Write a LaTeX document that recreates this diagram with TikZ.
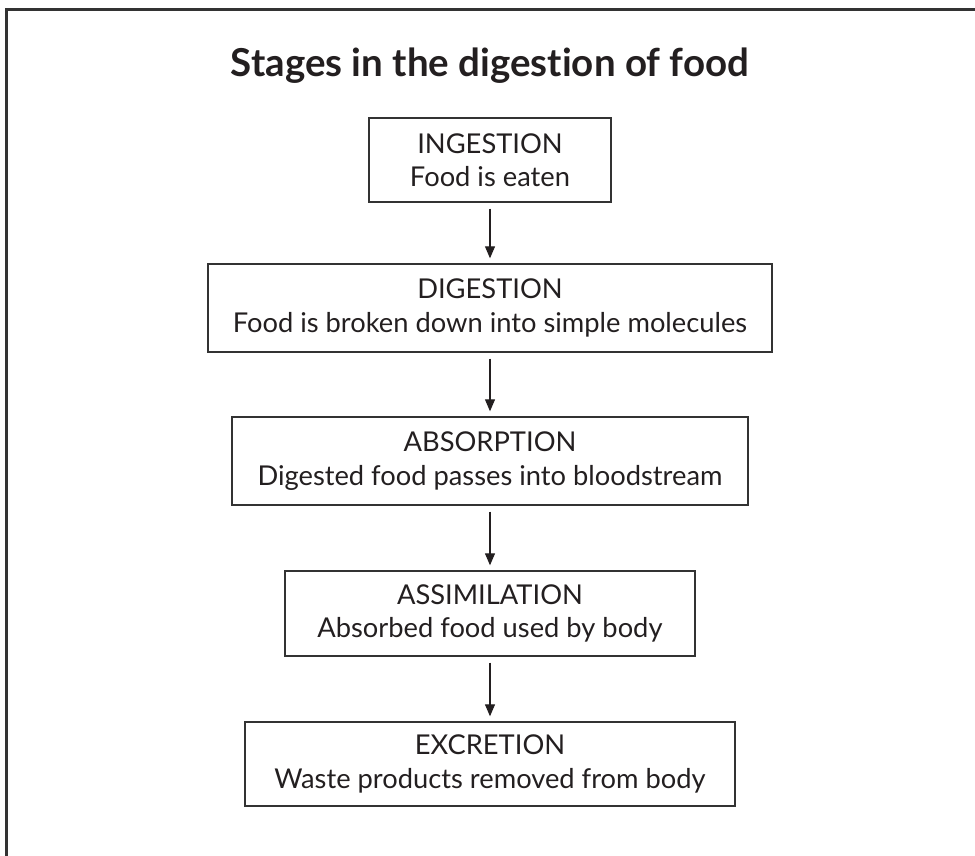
\documentclass[tikz,border=0pt]{standalone}
\usepackage{fontspec}
\setmainfont{Lato}[Ligatures=NoCommon]
\usetikzlibrary{arrows.meta}
\definecolor{txt}{HTML}{231F20}
\definecolor{boxcol}{HTML}{333333}
\begin{document}
\begin{tikzpicture}[x=1pt,y=-1pt,
  frame/.style={draw=boxcol, line width=2.2pt},
  stagebox/.style={draw=boxcol, line width=1.4pt, align=center,
    font=\fontsize{27.3}{33.5}\selectfont, text=txt, inner sep=0pt},
  flow/.style={draw=txt, line width=1.2pt, -{Triangle[width=10pt,length=12pt]},
    shorten <=6pt, shorten >=5pt}]
\useasboundingbox (0,0) rectangle (975,856);
\draw[frame] (6.5,856) -- (6.5,9.5) -- (975,9.5);
\node[font=\bfseries\fontsize{38.5}{40}\selectfont, text=txt] (title) at (490,66) {Stages in the digestion of food};
\node[stagebox, minimum width=242pt, minimum height=84pt] (ing) at (490,160) {INGESTION\\Food is eaten};
\node[stagebox, minimum width=564pt, minimum height=88pt] (dig) at (490,308) {DIGESTION\\Food is broken down into simple molecules};
\node[stagebox, minimum width=516pt, minimum height=88pt] (abs) at (490,461) {ABSORPTION\\Digested food passes into bloodstream};
\node[stagebox, minimum width=410pt, minimum height=85pt] (ass) at (490,613.5) {ASSIMILATION\\Absorbed food used by body};
\node[stagebox, minimum width=490pt, minimum height=84pt] (exc) at (490,764) {EXCRETION\\Waste products removed from body};
\draw[flow] (ing) -- (dig);
\draw[flow] (dig) -- (abs);
\draw[flow] (abs) -- (ass);
\draw[flow] (ass) -- (exc);
\end{tikzpicture}
\end{document}
